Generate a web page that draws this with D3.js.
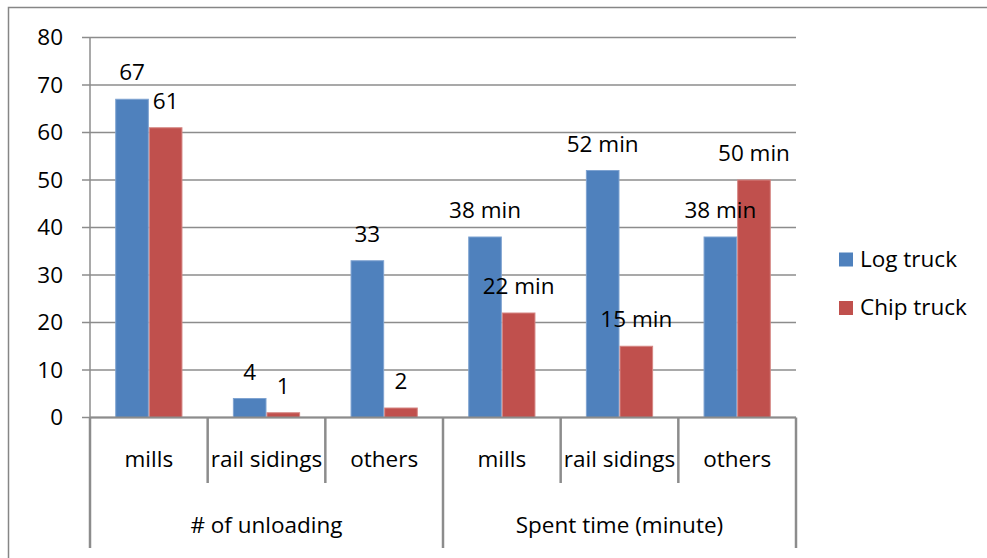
<!DOCTYPE html>
<html>
<head>
<meta charset="utf-8">
<script src="https://cdn.jsdelivr.net/npm/d3@7"></script>
<style>
  html, body { margin: 0; padding: 0; background: #fff; }
  svg { display: block; }
  text { font-family: "Open Sans", "Noto Sans", sans-serif; fill: #000; }
</style>
</head>
<body>
<svg id="chart" width="987" height="558"></svg>
<script>
// Two measurement groups, each with three destinations
const groups = ["# of unloading", "Spent time (minute)"];
const destinations = ["mills", "rail sidings", "others"];
const seriesNames = ["Log truck", "Chip truck"];
const logTruck = [67, 4, 33, 38, 52, 38];
const chipTruck = [61, 1, 2, 22, 15, 50];
const labelSuffix = ["", "", "", " min", " min", " min"];
const yTicks = [0, 10, 20, 30, 40, 50, 60, 70, 80];
const colors = ["#4F81BD", "#C0504D"];
const edgeColors = ["#7FA3D1", "#D58683"];

const svg = d3.select("#chart");
const fontSize = 22.5;

// outer frame
svg.append("rect")
  .attr("x", 8.5).attr("y", 7.5)
  .attr("width", 1000).attr("height", 600)
  .attr("fill", "none").attr("stroke", "#868686").attr("stroke-width", 1.5);

const plot = { left: 90, right: 796, top: 37.5, bottom: 417.5 };

const categories = groups.flatMap(g => destinations.map(d => g + "|" + d));
const x = d3.scaleBand().domain(categories).range([plot.left, plot.right]).paddingInner(0).paddingOuter(0);
const inner = d3.scaleBand().domain(seriesNames).range([0, x.bandwidth()]).paddingInner(0).paddingOuter(0.75);
const y = d3.scaleLinear().domain([0, 80]).range([plot.bottom, plot.top]);

// gridlines
svg.append("g").selectAll("line").data(yTicks).join("line")
  .attr("x1", plot.left - 8).attr("x2", plot.right)
  .attr("y1", d => y(d)).attr("y2", d => y(d))
  .attr("stroke", "#8C8C8C").attr("stroke-width", 1.5);

// y axis
const yAxis = d3.axisLeft(y).tickValues(yTicks).tickSize(0).tickPadding(27);
const yg = svg.append("g").attr("transform", `translate(${plot.left},0)`).call(yAxis);
yg.select(".domain").remove();
yg.selectAll("text").attr("font-size", fontSize).attr("font-family", null);
svg.append("line")
  .attr("x1", plot.left).attr("x2", plot.left)
  .attr("y1", plot.top).attr("y2", plot.bottom)
  .attr("stroke", "#8C8C8C").attr("stroke-width", 1.5);

// bars
const rows = categories.map((c, i) => ({ cat: c, vals: [logTruck[i], chipTruck[i]], suffix: labelSuffix[i] }));
const cg = svg.append("g").selectAll("g").data(rows).join("g")
  .attr("transform", d => `translate(${x(d.cat)},0)`);
cg.selectAll("rect").data(d => d.vals.map((v, k) => ({ v, k }))).join("rect")
  .attr("x", d => inner(seriesNames[d.k]) + 0.5)
  .attr("width", inner.bandwidth() - 1)
  .attr("y", d => y(d.v))
  .attr("height", d => y(0) - y(d.v))
  .attr("fill", d => colors[d.k])
  .attr("stroke", d => edgeColors[d.k]).attr("stroke-width", 1);

// value labels above each bar
cg.selectAll("text").data(d => d.vals.map((v, k) => ({ v, k, s: d.suffix }))).join("text")
  .attr("x", d => inner(seriesNames[d.k]) + inner.bandwidth() / 2)
  .attr("y", d => y(d.v) - 19)
  .attr("text-anchor", "middle")
  .attr("font-size", fontSize)
  .text(d => d.v + d.s);

// x axis line
svg.append("line")
  .attr("x1", plot.left).attr("x2", plot.right)
  .attr("y1", plot.bottom).attr("y2", plot.bottom)
  .attr("stroke", "#8C8C8C").attr("stroke-width", 2);

// category dividers: short between destinations, long between groups
const edges = d3.range(categories.length + 1).map(i => plot.left + i * x.bandwidth());
svg.append("g").selectAll("line").data(edges).join("line")
  .attr("x1", d => d).attr("x2", d => d)
  .attr("y1", plot.bottom)
  .attr("y2", (d, i) => (i % destinations.length === 0) ? 548 : 483)
  .attr("stroke", "#8C8C8C").attr("stroke-width", 2.5);

// destination labels
svg.append("g").selectAll("text").data(categories).join("text")
  .attr("x", d => x(d) + x.bandwidth() / 2)
  .attr("y", 467)
  .attr("text-anchor", "middle")
  .attr("font-size", fontSize)
  .text(d => d.split("|")[1]);

// group labels
svg.append("g").selectAll("text").data(groups).join("text")
  .attr("x", (d, i) => plot.left + (i + 0.5) * destinations.length * x.bandwidth())
  .attr("y", 533)
  .attr("text-anchor", "middle")
  .attr("font-size", fontSize)
  .text(d => d);

// legend
const lg = svg.append("g").selectAll("g").data(seriesNames).join("g")
  .attr("transform", (d, i) => `translate(839,${252.5 + i * 48.5})`);
lg.append("rect").attr("width", 14).attr("height", 14).attr("fill", (d, i) => colors[i]);
lg.append("text").attr("x", 21).attr("y", 14).attr("font-size", fontSize).text(d => d);
</script>
</body>
</html>
